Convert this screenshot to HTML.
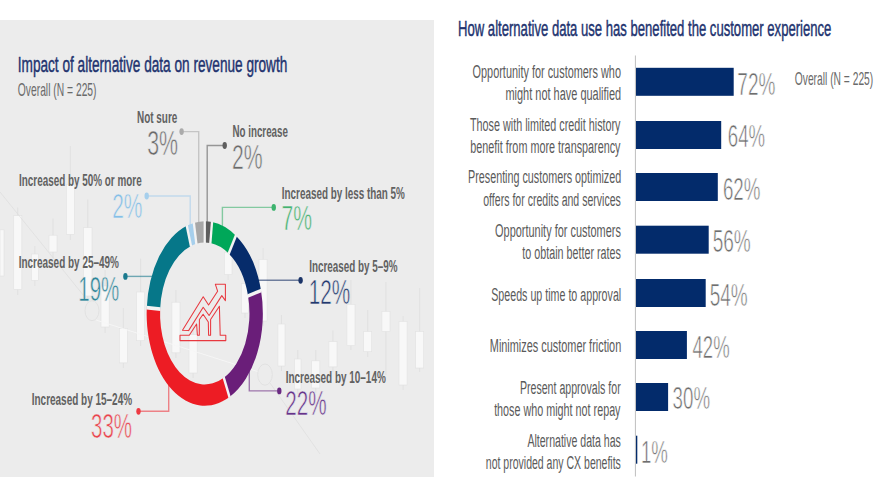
<!DOCTYPE html>
<html><head><meta charset="utf-8"><style>
html,body{margin:0;padding:0;background:#fff;width:880px;height:495px;overflow:hidden}
svg{display:block;font-family:"Liberation Sans",sans-serif}
</style></head><body>
<svg width="880" height="495" viewBox="0 0 880 495" font-family="Liberation Sans, sans-serif"><rect x="0" y="20" width="434" height="457" fill="#ECECEC"/>
<rect x="0" y="229.8" width="4.00" height="46.20" fill="#F8F8F8" stroke="#E2E2E2" stroke-width="0.6"/>
<line x1="17.77" y1="207.5" x2="17.77" y2="295" stroke="#DEDEDE" stroke-width="0.8"/>
<rect x="13.75" y="215.6" width="8.05" height="73.80" fill="#F8F8F8" stroke="#E2E2E2" stroke-width="0.6"/>
<line x1="34.85" y1="246" x2="34.85" y2="286" stroke="#DEDEDE" stroke-width="0.8"/>
<rect x="31.3" y="254" width="7.10" height="26.30" fill="#F8F8F8" stroke="#E2E2E2" stroke-width="0.6"/>
<line x1="53.00" y1="218.6" x2="53.00" y2="258" stroke="#DEDEDE" stroke-width="0.8"/>
<rect x="49" y="235.2" width="8.00" height="16.80" fill="#F8F8F8" stroke="#E2E2E2" stroke-width="0.6"/>
<line x1="70.35" y1="146" x2="70.35" y2="240" stroke="#DEDEDE" stroke-width="0.8"/>
<rect x="66.3" y="184.3" width="8.10" height="50.10" fill="#F8F8F8" stroke="#E2E2E2" stroke-width="0.6"/>
<line x1="87.75" y1="199.4" x2="87.75" y2="302" stroke="#DEDEDE" stroke-width="0.8"/>
<rect x="83.5" y="227.7" width="8.50" height="68.30" fill="#F8F8F8" stroke="#E2E2E2" stroke-width="0.6"/>
<line x1="105.10" y1="270" x2="105.10" y2="333" stroke="#DEDEDE" stroke-width="0.8"/>
<rect x="101" y="286" width="8.20" height="41.00" fill="#F8F8F8" stroke="#E2E2E2" stroke-width="0.6"/>
<line x1="123.35" y1="308" x2="123.35" y2="368" stroke="#DEDEDE" stroke-width="0.8"/>
<rect x="119.3" y="328.5" width="8.10" height="34.40" fill="#F8F8F8" stroke="#E2E2E2" stroke-width="0.6"/>
<line x1="140.55" y1="258.6" x2="140.55" y2="346" stroke="#DEDEDE" stroke-width="0.8"/>
<rect x="136.5" y="292" width="8.10" height="48.70" fill="#F8F8F8" stroke="#E2E2E2" stroke-width="0.6"/>
<line x1="175.95" y1="290" x2="175.95" y2="358" stroke="#DEDEDE" stroke-width="0.8"/>
<rect x="171.9" y="302.2" width="8.10" height="50.60" fill="#F8F8F8" stroke="#E2E2E2" stroke-width="0.6"/>
<line x1="193.10" y1="322" x2="193.10" y2="378" stroke="#DEDEDE" stroke-width="0.8"/>
<rect x="189" y="334.6" width="8.20" height="38.40" fill="#F8F8F8" stroke="#E2E2E2" stroke-width="0.6"/>
<line x1="228.15" y1="240" x2="228.15" y2="280" stroke="#DEDEDE" stroke-width="0.8"/>
<rect x="224.3" y="252.2" width="7.70" height="22.30" fill="#F8F8F8" stroke="#E2E2E2" stroke-width="0.6"/>
<line x1="245.00" y1="272" x2="245.00" y2="318" stroke="#DEDEDE" stroke-width="0.8"/>
<rect x="241.5" y="283.6" width="7.00" height="29.40" fill="#F8F8F8" stroke="#E2E2E2" stroke-width="0.6"/>
<line x1="263.05" y1="248" x2="263.05" y2="326" stroke="#DEDEDE" stroke-width="0.8"/>
<rect x="259" y="259.3" width="8.10" height="61.70" fill="#F8F8F8" stroke="#E2E2E2" stroke-width="0.6"/>
<line x1="281.45" y1="315" x2="281.45" y2="371" stroke="#DEDEDE" stroke-width="0.8"/>
<rect x="277.9" y="324" width="7.10" height="42.00" fill="#F8F8F8" stroke="#E2E2E2" stroke-width="0.6"/>
<line x1="297.75" y1="350" x2="297.75" y2="394" stroke="#DEDEDE" stroke-width="0.8"/>
<rect x="294.5" y="359" width="6.50" height="30.00" fill="#F8F8F8" stroke="#E2E2E2" stroke-width="0.6"/>
<line x1="315.75" y1="350" x2="315.75" y2="393" stroke="#DEDEDE" stroke-width="0.8"/>
<rect x="311.7" y="360.8" width="8.10" height="27.20" fill="#F8F8F8" stroke="#E2E2E2" stroke-width="0.6"/>
<line x1="332.95" y1="330.5" x2="332.95" y2="372" stroke="#DEDEDE" stroke-width="0.8"/>
<rect x="328.9" y="341.6" width="8.10" height="25.30" fill="#F8F8F8" stroke="#E2E2E2" stroke-width="0.6"/>
<line x1="350.95" y1="280" x2="350.95" y2="350" stroke="#DEDEDE" stroke-width="0.8"/>
<rect x="346.9" y="304.3" width="8.10" height="41.40" fill="#F8F8F8" stroke="#E2E2E2" stroke-width="0.6"/>
<line x1="367.70" y1="310" x2="367.70" y2="357" stroke="#DEDEDE" stroke-width="0.8"/>
<rect x="363.7" y="331.5" width="8.00" height="20.20" fill="#F8F8F8" stroke="#E2E2E2" stroke-width="0.6"/>
<line x1="385.95" y1="282" x2="385.95" y2="375" stroke="#DEDEDE" stroke-width="0.8"/>
<rect x="381.9" y="311.3" width="8.10" height="20.20" fill="#F8F8F8" stroke="#E2E2E2" stroke-width="0.6"/>
<line x1="403.05" y1="316" x2="403.05" y2="390" stroke="#DEDEDE" stroke-width="0.8"/>
<rect x="399" y="321.4" width="8.10" height="63.60" fill="#F8F8F8" stroke="#E2E2E2" stroke-width="0.6"/>
<line x1="419.65" y1="288" x2="419.65" y2="372" stroke="#DEDEDE" stroke-width="0.8"/>
<rect x="415.6" y="331.5" width="8.10" height="36.50" fill="#F8F8F8" stroke="#E2E2E2" stroke-width="0.6"/>
<polyline points="0,192 88,301" fill="none" stroke="#DCDCDC" stroke-width="0.7"/>
<polyline points="96,320 259,372" fill="none" stroke="#F6F6F6" stroke-width="0.9"/>
<polyline points="270,383 320,454" fill="none" stroke="#DDDDDD" stroke-width="0.7"/>
<ellipse cx="92" cy="310.7" rx="7" ry="10" fill="none" stroke="#E0E0E0" stroke-width="0.9"/>
<ellipse cx="265" cy="374.6" rx="7.3" ry="10.6" fill="none" stroke="#E0E0E0" stroke-width="0.9"/>
<text x="17.79" y="71.80" font-size="21.80" font-weight="normal" fill="#22336F" textLength="269.49" lengthAdjust="spacingAndGlyphs" stroke="#22336F" stroke-width="0.45">Impact of alternative data on revenue growth</text>
<text x="17.81" y="95.50" font-size="18.60" font-weight="normal" fill="#6A6A6A" textLength="78.73" lengthAdjust="spacingAndGlyphs">Overall (N = 225)</text>
<path d="M181.6 131.6 L198.7 131.6 L198.7 230" fill="none" stroke="#ABABAB" stroke-width="1.4" stroke-opacity="0.6"/>
<ellipse cx="181.6" cy="131.6" rx="2.2" ry="3.4" fill="#ABABAB"/>
<path d="M224.7 145.5 L207.2 145.5 L207.2 230" fill="none" stroke="#5E5E5E" stroke-width="1.4" stroke-opacity="0.6"/>
<ellipse cx="224.7" cy="145.5" rx="2.2" ry="3.4" fill="#5E5E5E"/>
<path d="M146.7 196 L190.2 196 L190.2 232" fill="none" stroke="#A6CFEC" stroke-width="1.4" stroke-opacity="0.6"/>
<ellipse cx="146.7" cy="196" rx="2.2" ry="3.4" fill="#A6CFEC"/>
<path d="M273.75 207.4 L222.4 207.4 L222.4 238" fill="none" stroke="#3DB36E" stroke-width="1.4" stroke-opacity="0.6"/>
<ellipse cx="273.75" cy="207.4" rx="2.2" ry="3.4" fill="#3DB36E"/>
<path d="M300.6 280.3 L252 280.3" fill="none" stroke="#1B3468" stroke-width="1.4" stroke-opacity="0.6"/>
<ellipse cx="300.6" cy="280.3" rx="2.2" ry="3.4" fill="#1B3468"/>
<path d="M279.3 390.9 L249.3 390.9 L249.3 360" fill="none" stroke="#6A2A82" stroke-width="1.4" stroke-opacity="0.6"/>
<ellipse cx="279.3" cy="390.9" rx="2.2" ry="3.4" fill="#6A2A82"/>
<path d="M125.4 276.4 L157 276.4" fill="none" stroke="#1B7A8E" stroke-width="1.4" stroke-opacity="0.6"/>
<ellipse cx="125.4" cy="276.4" rx="2.2" ry="3.4" fill="#1B7A8E"/>
<path d="M138.5 411.3 L168.7 411.3 L168.7 380" fill="none" stroke="#EE3A42" stroke-width="1.4" stroke-opacity="0.6"/>
<ellipse cx="138.5" cy="411.3" rx="2.2" ry="3.4" fill="#EE3A42"/>
<g transform="translate(204.75 313.5) scale(1 1.587)"><path d="M7.282 -57.642A58.1 58.1 0 0 1 31.132 -49.055L23.951 -37.741A44.7 44.7 0 0 0 5.602 -44.348Z" fill="#00A759"/><path d="M31.132 -49.055A58.1 58.1 0 0 1 56.275 -14.449L43.296 -11.116A44.7 44.7 0 0 0 23.951 -37.741Z" fill="#062C6B"/><path d="M56.275 -14.449A58.1 58.1 0 0 1 24.738 52.570L19.032 40.446A44.7 44.7 0 0 0 43.296 -11.116Z" fill="#6A1E79"/><path d="M24.738 52.570A58.1 58.1 0 0 1 -57.985 -3.648L-44.612 -2.807A44.7 44.7 0 0 0 19.032 40.446Z" fill="#ED1C24"/><path d="M-57.985 -3.648A58.1 58.1 0 0 1 -17.954 -55.256L-13.813 -42.512A44.7 44.7 0 0 0 -44.612 -2.807Z" fill="#067789"/><path d="M-17.954 -55.256A58.1 58.1 0 0 1 -10.887 -57.071L-8.376 -43.908A44.7 44.7 0 0 0 -13.813 -42.512Z" fill="#A6CFEC"/><path d="M-10.887 -57.071A58.1 58.1 0 0 1 -0.000 -58.100L-0.000 -44.700A44.7 44.7 0 0 0 -8.376 -43.908Z" fill="#A7A7A7"/><path d="M-0.000 -58.100A58.1 58.1 0 0 1 7.282 -57.642L5.602 -44.348A44.7 44.7 0 0 0 -0.000 -44.700Z" fill="#5E5E5E"/><line x1="5.565" y1="-44.050" x2="7.319" y2="-57.939" stroke="#F3F3F3" stroke-width="2.3"/><line x1="23.791" y1="-37.488" x2="31.292" y2="-49.309" stroke="#F3F3F3" stroke-width="2.3"/><line x1="43.005" y1="-11.042" x2="56.565" y2="-14.523" stroke="#F3F3F3" stroke-width="2.3"/><line x1="18.905" y1="40.174" x2="24.866" y2="52.842" stroke="#F3F3F3" stroke-width="2.3"/><line x1="-44.312" y1="-2.788" x2="-58.285" y2="-3.667" stroke="#F3F3F3" stroke-width="2.3"/><line x1="-13.720" y1="-42.227" x2="-18.047" y2="-55.542" stroke="#F3F3F3" stroke-width="2.3"/><line x1="-8.320" y1="-43.614" x2="-10.943" y2="-57.366" stroke="#F3F3F3" stroke-width="2.3"/><line x1="-0.000" y1="-44.400" x2="-0.000" y2="-58.400" stroke="#F3F3F3" stroke-width="2.3"/></g>
<text x="137.04" y="122.60" font-size="17.00" font-weight="bold" fill="#616161" textLength="40.30" lengthAdjust="spacingAndGlyphs">Not sure</text>
<text x="147.19" y="154.60" font-size="34.40" font-weight="normal" fill="#6A6A6A" textLength="30.88" lengthAdjust="spacingAndGlyphs" stroke="#ECECEC" stroke-width="0.7">3%</text>
<text x="232.45" y="136.90" font-size="17.00" font-weight="bold" fill="#616161" textLength="55.49" lengthAdjust="spacingAndGlyphs">No increase</text>
<text x="232.03" y="169.40" font-size="34.40" font-weight="normal" fill="#6A6A6A" textLength="30.62" lengthAdjust="spacingAndGlyphs" stroke="#ECECEC" stroke-width="0.7">2%</text>
<text x="19.04" y="185.50" font-size="17.00" font-weight="bold" fill="#616161" textLength="122.60" lengthAdjust="spacingAndGlyphs">Increased by 50% or more</text>
<text x="112.15" y="218.30" font-size="34.40" font-weight="normal" fill="#84BFE8" textLength="30.30" lengthAdjust="spacingAndGlyphs" stroke="#ECECEC" stroke-width="0.7">2%</text>
<text x="281.84" y="198.75" font-size="17.00" font-weight="bold" fill="#616161" textLength="122.92" lengthAdjust="spacingAndGlyphs">Increased by less than 5%</text>
<text x="281.41" y="229.80" font-size="34.40" font-weight="normal" fill="#44B270" textLength="30.59" lengthAdjust="spacingAndGlyphs" stroke="#ECECEC" stroke-width="0.7">7%</text>
<text x="309.24" y="271.60" font-size="17.00" font-weight="bold" fill="#616161" textLength="88.22" lengthAdjust="spacingAndGlyphs">Increased by 5–9%</text>
<text x="308.72" y="303.90" font-size="34.40" font-weight="normal" fill="#22396E" textLength="41.52" lengthAdjust="spacingAndGlyphs" stroke="#ECECEC" stroke-width="0.7">12%</text>
<text x="285.73" y="383.20" font-size="17.00" font-weight="bold" fill="#616161" textLength="100.03" lengthAdjust="spacingAndGlyphs">Increased by 10–14%</text>
<text x="285.36" y="415.40" font-size="34.40" font-weight="normal" fill="#66338A" textLength="41.38" lengthAdjust="spacingAndGlyphs" stroke="#ECECEC" stroke-width="0.7">22%</text>
<text x="18.73" y="267.90" font-size="17.00" font-weight="bold" fill="#616161" textLength="100.23" lengthAdjust="spacingAndGlyphs">Increased by 25–49%</text>
<text x="78.34" y="301.30" font-size="34.40" font-weight="normal" fill="#2E8599" textLength="40.99" lengthAdjust="spacingAndGlyphs" stroke="#ECECEC" stroke-width="0.7">19%</text>
<text x="31.73" y="404.90" font-size="17.00" font-weight="bold" fill="#616161" textLength="100.33" lengthAdjust="spacingAndGlyphs">Increased by 15–24%</text>
<text x="91.02" y="438.00" font-size="34.40" font-weight="normal" fill="#EA434C" textLength="41.01" lengthAdjust="spacingAndGlyphs" stroke="#ECECEC" stroke-width="0.7">33%</text>
<g fill="none" stroke="#E8383F" stroke-width="1.05" stroke-linejoin="round"><path d="M182.5 330.3 L203.2 296.8 L208.6 305 L217.6 291.2 L215.3 284.2 L225.4 284.2 L225.4 300.6 L221.8 295.6 L209.1 315.5 L203.2 307.3 L188.6 330.6 Z"/><path d="M180 340.6 L180 335.3 L189.3 335.3 L196.6 324 L197.4 335.3 L199.3 335.3 L199.4 319.5 L203.1 314.2 L208.3 322 L208.6 335.3 L210.6 335.3 L210.6 319.5 L219.4 306.2 L220.2 335.3 L225.8 335.3 L225.8 340.6 Z"/></g>
<text x="458.03" y="36.30" font-size="21.50" font-weight="normal" fill="#22336F" textLength="373.36" lengthAdjust="spacingAndGlyphs" stroke="#22336F" stroke-width="0.45">How alternative data use has benefited the customer experience</text>
<text x="794.81" y="85.00" font-size="18.60" font-weight="normal" fill="#6A6A6A" textLength="78.42" lengthAdjust="spacingAndGlyphs">Overall (N = 225)</text>
<rect x="634.9" y="55.5" width="1.1" height="421" fill="#C4C4C4"/>
<rect x="636" y="67.8" width="97.70" height="28" fill="#032B6B"/>
<rect x="636" y="121" width="85.20" height="28" fill="#032B6B"/>
<rect x="636" y="173" width="81.80" height="28" fill="#032B6B"/>
<rect x="636" y="225.7" width="72.70" height="28" fill="#032B6B"/>
<rect x="636" y="279" width="69.70" height="28" fill="#032B6B"/>
<rect x="636" y="331" width="50.90" height="28" fill="#032B6B"/>
<rect x="636" y="383" width="32.10" height="28" fill="#032B6B"/>
<rect x="636" y="435.7" width="1.30" height="28" fill="#032B6B"/>
<text x="472.58" y="77.90" font-size="17.60" font-weight="normal" fill="#5A5A5A" textLength="148.37" lengthAdjust="spacingAndGlyphs">Opportunity for customers who</text>
<text x="505.47" y="100.20" font-size="17.60" font-weight="normal" fill="#5A5A5A" textLength="115.73" lengthAdjust="spacingAndGlyphs">might not have qualified</text>
<text x="469.96" y="131.30" font-size="17.60" font-weight="normal" fill="#5A5A5A" textLength="150.56" lengthAdjust="spacingAndGlyphs">Those with limited credit history</text>
<text x="470.30" y="153.00" font-size="17.60" font-weight="normal" fill="#5A5A5A" textLength="150.22" lengthAdjust="spacingAndGlyphs">benefit from more transparency</text>
<text x="468.02" y="183.30" font-size="17.60" font-weight="normal" fill="#5A5A5A" textLength="153.18" lengthAdjust="spacingAndGlyphs">Presenting customers optimized</text>
<text x="483.26" y="205.60" font-size="17.60" font-weight="normal" fill="#5A5A5A" textLength="137.62" lengthAdjust="spacingAndGlyphs">offers for credits and services</text>
<text x="495.08" y="236.70" font-size="17.60" font-weight="normal" fill="#5A5A5A" textLength="125.81" lengthAdjust="spacingAndGlyphs">Opportunity for customers</text>
<text x="522.34" y="258.60" font-size="17.60" font-weight="normal" fill="#5A5A5A" textLength="98.55" lengthAdjust="spacingAndGlyphs">to obtain better rates</text>
<text x="491.22" y="300.70" font-size="17.60" font-weight="normal" fill="#5A5A5A" textLength="130.00" lengthAdjust="spacingAndGlyphs">Speeds up time to approval</text>
<text x="489.81" y="352.40" font-size="17.60" font-weight="normal" fill="#5A5A5A" textLength="131.40" lengthAdjust="spacingAndGlyphs">Minimizes customer friction</text>
<text x="519.93" y="394.00" font-size="17.60" font-weight="normal" fill="#5A5A5A" textLength="100.75" lengthAdjust="spacingAndGlyphs">Present approvals for</text>
<text x="494.14" y="415.80" font-size="17.60" font-weight="normal" fill="#5A5A5A" textLength="126.38" lengthAdjust="spacingAndGlyphs">those who might not repay</text>
<text x="527.38" y="446.70" font-size="17.60" font-weight="normal" fill="#5A5A5A" textLength="93.50" lengthAdjust="spacingAndGlyphs">Alternative data has</text>
<text x="485.80" y="469.20" font-size="17.60" font-weight="normal" fill="#5A5A5A" textLength="135.08" lengthAdjust="spacingAndGlyphs">not provided any CX benefits</text>
<text x="737.33" y="95.00" font-size="31.70" font-weight="normal" fill="#6E6E6E" textLength="38.05" lengthAdjust="spacingAndGlyphs" stroke="#FFFFFF" stroke-width="0.7">72%</text>
<text x="727.85" y="146.60" font-size="31.70" font-weight="normal" fill="#6E6E6E" textLength="37.31" lengthAdjust="spacingAndGlyphs" stroke="#FFFFFF" stroke-width="0.7">64%</text>
<text x="722.95" y="199.90" font-size="31.70" font-weight="normal" fill="#6E6E6E" textLength="37.52" lengthAdjust="spacingAndGlyphs" stroke="#FFFFFF" stroke-width="0.7">62%</text>
<text x="712.64" y="252.30" font-size="31.70" font-weight="normal" fill="#6E6E6E" textLength="38.14" lengthAdjust="spacingAndGlyphs" stroke="#FFFFFF" stroke-width="0.7">56%</text>
<text x="709.64" y="305.60" font-size="31.70" font-weight="normal" fill="#6E6E6E" textLength="38.04" lengthAdjust="spacingAndGlyphs" stroke="#FFFFFF" stroke-width="0.7">54%</text>
<text x="692.57" y="358.40" font-size="31.70" font-weight="normal" fill="#6E6E6E" textLength="37.09" lengthAdjust="spacingAndGlyphs" stroke="#FFFFFF" stroke-width="0.7">42%</text>
<text x="672.59" y="409.30" font-size="31.70" font-weight="normal" fill="#6E6E6E" textLength="37.48" lengthAdjust="spacingAndGlyphs" stroke="#FFFFFF" stroke-width="0.7">30%</text>
<text x="640.98" y="462.80" font-size="31.70" font-weight="normal" fill="#6E6E6E" textLength="26.99" lengthAdjust="spacingAndGlyphs" stroke="#FFFFFF" stroke-width="0.7">1%</text></svg>
</body></html>
